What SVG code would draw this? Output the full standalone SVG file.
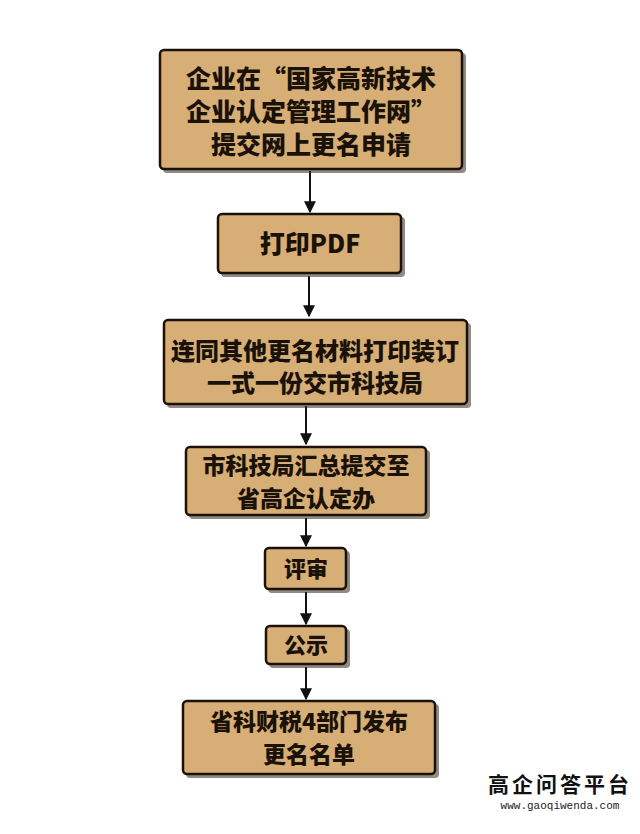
<svg xmlns="http://www.w3.org/2000/svg" width="640" height="834" viewBox="0 0 640 834">
<style>
.b{fill:#D7AE76;stroke:#1a1208;stroke-width:2.5}
.s{fill:#3a2a1a;opacity:0.55}
.t{font-family:"Noto Sans CJK SC",sans-serif;font-weight:900;fill:#1a1208;text-anchor:middle}
.c{stroke:#111;stroke-width:2;fill:none}
</style>
<defs><marker id="a" viewBox="0 0 10 10" refX="9" refY="5" markerWidth="6" markerHeight="6" orient="auto"><path d="M0,0L10,5L0,10z" fill="#111"/></marker></defs>
<rect width="640" height="834" fill="#fff"/>
<g id="connectors">
<line class="c" x1="310" y1="171" x2="310" y2="212" marker-end="url(#a)"/>
<line class="c" x1="309" y1="276" x2="309" y2="316" marker-end="url(#a)"/>
<line class="c" x1="306" y1="406" x2="306" y2="444" marker-end="url(#a)"/>
<line class="c" x1="306" y1="518" x2="306" y2="546" marker-end="url(#a)"/>
<line class="c" x1="306" y1="592" x2="306" y2="624" marker-end="url(#a)"/>
<line class="c" x1="306" y1="667" x2="306" y2="699" marker-end="url(#a)"/>
</g>
<g id="n1"><rect class="s" x="163" y="53" width="303" height="120" rx="4"/><rect class="b" x="160" y="50" width="302" height="119" rx="4"/>
<text class="t" font-size="25"><tspan x="311" y="88">企业在“国家高新技术</tspan><tspan x="311" y="121">企业认定管理工作网”</tspan><tspan x="311" y="154">提交网上更名申请</tspan></text></g>
<g id="n2"><rect class="s" x="221" y="217" width="184" height="60" rx="4"/><rect class="b" x="218" y="214" width="183" height="59" rx="4"/>
<text class="t" font-size="25" x="310" y="253">打印PDF</text></g>
<g id="n3"><rect class="s" x="167" y="323" width="304" height="85" rx="4"/><rect class="b" x="164" y="320" width="303" height="84" rx="4"/>
<text class="t" font-size="24"><tspan x="315" y="360">连同其他更名材料打印装订</tspan><tspan x="315" y="392">一式一份交市科技局</tspan></text></g>
<g id="n4"><rect class="s" x="189" y="450" width="241" height="69" rx="4"/><rect class="b" x="186" y="447" width="240" height="68" rx="4"/>
<text class="t" font-size="23"><tspan x="306" y="474">市科技局汇总提交至</tspan><tspan x="306" y="507">省高企认定办</tspan></text></g>
<g id="n5"><rect class="s" x="268" y="551" width="82" height="42" rx="4"/><rect class="b" x="265" y="548" width="81" height="41" rx="4"/>
<text class="t" font-size="22" x="306" y="577">评审</text></g>
<g id="n6"><rect class="s" x="269" y="629" width="81" height="39" rx="4"/><rect class="b" x="266" y="626" width="80" height="38" rx="4"/>
<text class="t" font-size="22" x="306" y="653">公示</text></g>
<g id="n7"><rect class="s" x="186" y="704" width="253" height="74" rx="4"/><rect class="b" x="183" y="701" width="252" height="73" rx="4"/>
<text class="t" font-size="23"><tspan x="309" y="730">省科财税4部门发布</tspan><tspan x="309" y="763">更名名单</tspan></text></g>
<text x="560" y="792" font-family="Noto Sans CJK SC,serif" font-weight="bold" font-size="21" text-anchor="middle" fill="#111" letter-spacing="3">高企问答平台</text>
<text x="560" y="809" font-family="Liberation Mono,monospace" font-size="11" text-anchor="middle" fill="#222">www.gaoqiwenda.com</text>
</svg>
